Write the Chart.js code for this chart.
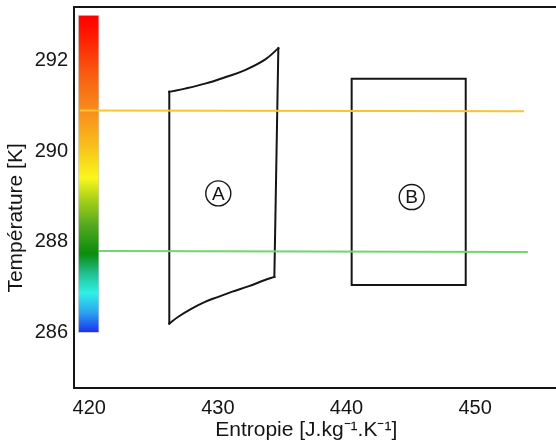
<!DOCTYPE html>
<html><head><meta charset="utf-8">
<script src="https://cdn.jsdelivr.net/npm/chart.js@4/dist/chart.umd.min.js"></script>
<style>html,body{margin:0;padding:0;background:#fff;}canvas{display:block;}</style>
</head><body>
<canvas id="c" width="556" height="443"></canvas>
<script>
// ---- data ----
const xTicks = [420, 430, 440, 450];
const yTicks = [286, 288, 290, 292];
const xRange = [418.81, 456.29];
const yRange = [284.78, 293.18];

const colorbarX = 419.95;
const colorbarRange = [286, 293];
const colorbarStopPos = [0, 0.061, 0.124, 0.187, 0.25, 0.335, 0.419, 0.487, 0.587, 0.693, 0.819, 0.935, 1];
const colorbarStopColor = ['#1a2ef0', '#2aa0f0', '#30f0e8', '#20c090', '#0a8c0a', '#50a820', '#a8d018', '#f8f81c', '#f8c01a', '#f8901c', '#f85a10', '#ff1a00', '#ff0000'];

const isoHighX = [419.27, 453.80];
const isoHighY = [290.90, 290.88];
const isoLowX = [420.75, 454.10];
const isoLowY = [287.80, 287.78];

const cycleATopX = [426.22, 427.44, 429.00, 430.55, 432.11, 433.66, 434.70];
const cycleATopY = [291.31, 291.38, 291.49, 291.63, 291.79, 292.02, 292.27];
const cycleABottomX = [426.22, 426.92, 427.96, 429.00, 430.03, 431.07, 432.36, 433.66, 434.39];
const cycleABottomY = [286.20, 286.35, 286.53, 286.68, 286.79, 286.90, 287.02, 287.16, 287.23];

const cycleBX = [440.40, 449.27, 449.27, 440.40, 440.40];
const cycleBY = [287.05, 287.05, 291.60, 291.60, 287.05];

const labelText = ['A', 'B'];
const labelX = [430.03, 445.07];
const labelY = [289.07, 288.99];

const xTitle = 'Entropie [J.kg\u207B\u00B9.K\u207B\u00B9]   ';
const yTitle = 'Température [K]       ';

// ---- helpers ----
const pts = (xs, ys) => xs.map((x, i) => ({x, y: ys[i]}));
const FONT = '"Liberation Sans", Arial, sans-serif';
const INK = '#151515';

const lineDs = (data, color, width, extra) => Object.assign({
  type: 'line', data, borderColor: color, borderWidth: width, pointRadius: 0,
  fill: false, tension: 0, order: 1, borderCapStyle: 'square', borderJoinStyle: 'miter'
}, extra || {});

const labelPlugin = {
  id: 'circleLetters',
  afterDatasetsDraw(chart) {
    const idx = chart.data.datasets.findIndex(d => d.id === 'labels');
    const meta = chart.getDatasetMeta(idx);
    const ctx = chart.ctx;
    ctx.save();
    ctx.fillStyle = INK;
    ctx.font = '19px ' + FONT;
    ctx.textAlign = 'center';
    ctx.textBaseline = 'middle';
    meta.data.forEach((p, i) => ctx.fillText(labelText[i], p.x, p.y + 1));
    ctx.restore();
  }
};

const noPad = s => { s.paddingTop = 0; s.paddingBottom = 0; s.paddingLeft = 0; s.paddingRight = 0; };

new Chart(document.getElementById('c'), {
  type: 'line',
  data: {
    datasets: [
      {
        type: 'bar',
        data: [{x: colorbarX, y: colorbarRange}],
        barThickness: 21,
        borderWidth: 1,
        borderColor: '#d0d0d0',
        borderSkipped: false,
        order: 10,
        backgroundColor(ctx) {
          const chart = ctx.chart;
          if (!chart.chartArea) return 'rgba(0,0,0,0)';
          const y0 = chart.scales.y.getPixelForValue(colorbarRange[0]);
          const y1 = chart.scales.y.getPixelForValue(colorbarRange[1]);
          const g = chart.ctx.createLinearGradient(0, y0, 0, y1);
          colorbarStopPos.forEach((p, i) => g.addColorStop(p, colorbarStopColor[i]));
          return g;
        }
      },
      lineDs(pts(isoHighX, isoHighY), '#f8c431', 2, {borderCapStyle: 'butt'}),
      lineDs(pts(isoLowX, isoLowY), '#72d472', 2, {borderCapStyle: 'butt'}),
      lineDs(pts(cycleATopX, cycleATopY), INK, 2, {tension: 0.4}),
      lineDs(pts(cycleABottomX, cycleABottomY), INK, 2, {tension: 0.4}),
      lineDs(pts([cycleATopX[0], cycleABottomX[0]], [cycleATopY[0], cycleABottomY[0]]), INK, 2),
      lineDs(pts([cycleATopX[cycleATopX.length - 1], cycleABottomX[cycleABottomX.length - 1]],
                 [cycleATopY[cycleATopY.length - 1], cycleABottomY[cycleABottomY.length - 1]]), INK, 2),
      lineDs(pts(cycleBX, cycleBY), INK, 2),
      {
        id: 'labels', type: 'line', showLine: false,
        data: pts(labelX, labelY),
        pointRadius: 12.5, pointBorderWidth: 1.4,
        pointBorderColor: INK, pointBackgroundColor: 'rgba(0,0,0,0)', order: 0
      }
    ]
  },
  options: {
    responsive: false,
    animation: false,
    events: [],
    layout: {autoPadding: false, padding: {top: 7, left: 0, right: 0, bottom: 0}},
    plugins: {legend: {display: false}, tooltip: {enabled: false}},
    scales: {
      x: {
        type: 'linear', position: 'bottom', min: xRange[0], max: xRange[1], offset: false,
        grid: {display: false, drawTicks: false},
        border: {display: true, color: INK, width: 2},
        ticks: {color: INK, font: {family: FONT, size: 20}, padding: 8, maxRotation: 0},
        title: {display: true, text: xTitle, color: INK, font: {family: FONT, size: 21}, padding: {top: 0, bottom: 0}},
        afterBuildTicks(s) { s.ticks = xTicks.map(v => ({value: v})); },
        afterFit(s) { s.height = 55; noPad(s); }
      },
      xTop: {
        type: 'linear', position: 'top', min: xRange[0], max: xRange[1],
        grid: {display: false, drawTicks: false},
        border: {display: true, color: INK, width: 2},
        ticks: {display: false},
        afterFit(s) { s.height = 0; noPad(s); }
      },
      y: {
        type: 'linear', position: 'left', min: yRange[0], max: yRange[1],
        grid: {display: false, drawTicks: false},
        border: {display: true, color: INK, width: 2},
        ticks: {color: INK, font: {family: FONT, size: 20}, padding: 6},
        title: {display: true, text: yTitle, color: INK, font: {family: FONT, size: 21}, padding: {top: 4, bottom: 0}},
        afterBuildTicks(s) { s.ticks = yTicks.map(v => ({value: v})); },
        afterFit(s) { s.width = 74; noPad(s); }
      }
    }
  },
  plugins: [labelPlugin]
});
</script>
</body></html>
